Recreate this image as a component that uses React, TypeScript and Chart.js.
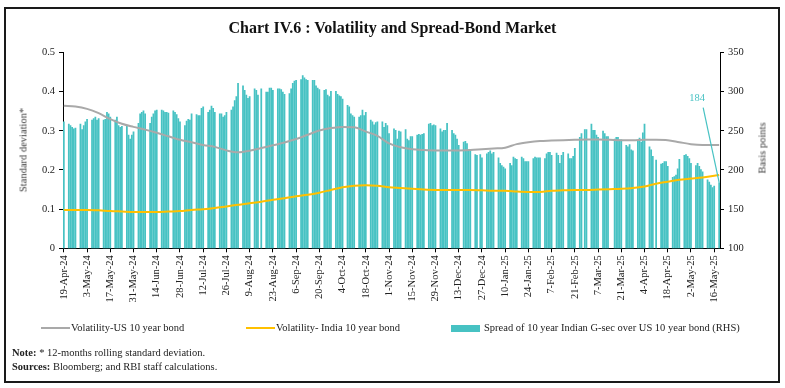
import React, { useEffect, useRef } from "react";
import { Chart, registerables } from "chart.js";

Chart.register(...registerables);

const FONT = "'Liberation Serif', 'Times New Roman', serif";

// Calendar-day categories from 19-Apr-24 to 19-May-25
const startDate = "2024-04-19";
const dayCount = 396;
const monthNames = ["Jan", "Feb", "Mar", "Apr", "May", "Jun", "Jul", "Aug", "Sep", "Oct", "Nov", "Dec"];

const tickLabels = [
  "19-Apr-24", "3-May-24", "17-May-24", "31-May-24", "14-Jun-24", "28-Jun-24", "12-Jul-24",
  "26-Jul-24", "9-Aug-24", "23-Aug-24", "6-Sep-24", "20-Sep-24", "4-Oct-24", "18-Oct-24",
  "1-Nov-24", "15-Nov-24", "29-Nov-24", "13-Dec-24", "27-Dec-24", "10-Jan-25", "24-Jan-25",
  "7-Feb-25", "21-Feb-25", "7-Mar-25", "21-Mar-25", "4-Apr-25", "18-Apr-25", "2-May-25", "16-May-25",
];

// Spread (bps, RHS): weekly rows Mon..Fri, first row = week of 15-19 Apr 2024
const spreadWeeks: (number | null)[][] = [
  [null, null, null, null, 262],
  [259, 257, 255, 253, 254],
  [259, 252, 257, 262, 265],
  [264, 266, 268, 264, 266],
  [264, 265, 274, 272, 268],
  [264, 268, 257, 255, 256],
  [257, 245, 240, 245, 249],
  [260, 272, 274, 276, 272],
  [260, 268, 272, 276, 277],
  [277, 276, 274, 274, 273],
  [276, 274, 271, 266, 262],
  [257, 263, 265, 264, 272],
  [271, 270, 270, 279, 281],
  [274, 277, 282, 279, 274],
  [272, 272, 268, 270, 274],
  [277, 281, 289, 294, 311],
  [308, 302, 296, 292, 294],
  [304, 302, 296, null, 304],
  [300, 300, 305, 305, 302],
  [304, 304, 303, 300, 297],
  [298, 304, 311, 314, 315],
  [316, 321, 318, 316, 315],
  [315, 315, 308, 305, 303],
  [302, 303, 296, 294, 301],
  [301, 297, 295, 294, 291],
  [283, 281, 272, 270, 268],
  [268, 270, 277, 270, 274],
  [264, 262, 258, 261, 262],
  [262, 255, 260, 257, 247],
  [253, 251, 240, 250, 249],
  [252, 240, 238, 243, 243],
  [245, 246, 245, 246, 247],
  [259, 260, 257, 258, 257],
  [253, 249, 251, 251, 260],
  [251, 247, 245, 240, 232],
  [236, 237, 234, 226, 226],
  [220, 219, null, 220, 216],
  [221, 223, 225, 221, 223],
  [216, 209, 206, 204, 202],
  [209, 206, 217, 215, 214],
  [217, 215, 211, 211, 211],
  [215, 217, 216, 216, 216],
  [215, 221, 223, 223, 219],
  [222, 219, 209, 219, 223],
  [221, 215, 215, 218, 228],
  [242, 247, null, 252, 252],
  [259, 251, 251, 245, 242],
  [250, 247, 243, 243, null],
  [240, 242, 242, 239, 239],
  [232, 230, 233, 226, 225],
  [238, 241, 236, 248, 259],
  [230, 226, 218, null, 213],
  [208, 209, 211, 211, 205],
  [191, 192, 194, 202, 214],
  [219, 220, 218, 215, 209],
  [206, 209, 205, 201, 198],
  [188, 185, 181, 178, 180],
  [184],
];

// Volatility series (LHS), read at each Friday from 19-Apr-24 to 16-May-25, plus 19-May-25
const usVolatility = [
  0.364, 0.362, 0.356, 0.345, 0.330, 0.318, 0.310, 0.303, 0.295, 0.286,
  0.277, 0.271, 0.264, 0.259, 0.250, 0.245, 0.249, 0.256, 0.263, 0.270,
  0.279, 0.290, 0.301, 0.307, 0.310, 0.309, 0.298, 0.287, 0.268, 0.258,
  0.253, 0.251, 0.250, 0.250, 0.250, 0.251, 0.253, 0.255, 0.257, 0.266,
  0.271, 0.274, 0.275, 0.276, 0.277, 0.278, 0.278, 0.277, 0.276, 0.276,
  0.277, 0.277, 0.276, 0.271, 0.266, 0.264, 0.264, 0.264,
];
const indiaVolatility = [
  0.098, 0.098, 0.098, 0.097, 0.095, 0.094, 0.093, 0.093, 0.093, 0.094,
  0.095, 0.098, 0.100, 0.103, 0.107, 0.111, 0.115, 0.119, 0.124, 0.128,
  0.133, 0.137, 0.142, 0.149, 0.156, 0.160, 0.161, 0.160, 0.156, 0.154,
  0.152, 0.150, 0.149, 0.149, 0.149, 0.149, 0.148, 0.147, 0.147, 0.145,
  0.144, 0.144, 0.147, 0.148, 0.149, 0.149, 0.150, 0.151, 0.152, 0.154,
  0.158, 0.165, 0.170, 0.175, 0.178, 0.181, 0.185, 0.187,
];

const COLORS = { us: "#A9A9A9", india: "#FFC000", spread: "#47C2C3", axis: "#000000", text: "#222222" };

function buildCategories(): string[] {
  const [y, m, d] = startDate.split("-").map(Number);
  const base = Date.UTC(y, m - 1, d);
  const out: string[] = [];
  for (let i = 0; i < dayCount; i++) {
    const dt = new Date(base + i * 86400000);
    out.push(`${dt.getUTCDate()}-${monthNames[dt.getUTCMonth()]}-${String(dt.getUTCFullYear()).slice(2)}`);
  }
  return out;
}

export default function App() {
  const ref = useRef<HTMLCanvasElement | null>(null);

  useEffect(() => {
    if (!ref.current) return;
    const categories = buildCategories();
    const tickSet = new Set(tickLabels);

    const spread: (number | null)[] = new Array(categories.length).fill(null);
    spreadWeeks.forEach((week, w) => {
      week.forEach((v, k) => {
        const d = 7 * w + k - 4;
        if (d >= 0 && d < categories.length) spread[d] = v;
      });
    });
    const lastIdx = categories.length - 1;
    const lastSpread = spread[lastIdx] as number;

    const linePoints = (vals: number[]) =>
      vals.map((v, i) => ({ x: categories[Math.min(i * 7, lastIdx)], y: v }));

    const annotation = {
      id: "lastValueLabel",
      afterDatasetsDraw(chart: any) {
        const { ctx, scales } = chart;
        const px = scales.x.getPixelForValue(lastIdx);
        const py = scales.y1.getPixelForValue(lastSpread);
        ctx.save();
        ctx.strokeStyle = COLORS.spread;
        ctx.lineWidth = 1.2;
        ctx.beginPath();
        ctx.moveTo(px - 16, py - 75);
        ctx.lineTo(px, py);
        ctx.stroke();
        ctx.fillStyle = COLORS.spread;
        ctx.font = `10.5px ${FONT}`;
        ctx.textAlign = "center";
        ctx.textBaseline = "middle";
        ctx.fillText(String(lastSpread), px - 22, py - 84);
        ctx.restore();
      },
    };

    const tickFont = { family: FONT, size: 10.5 };

    const chart = new Chart(ref.current, {
      type: "bar",
      data: {
        labels: categories,
        datasets: [
          {
            type: "line",
            label: "Volatility-US 10 year bond",
            data: linePoints(usVolatility) as any,
            yAxisID: "y",
            borderColor: COLORS.us,
            borderWidth: 2,
            pointRadius: 0,
            cubicInterpolationMode: "monotone",
            order: 1,
          },
          {
            type: "line",
            label: "Volatility- India 10 year bond",
            data: linePoints(indiaVolatility) as any,
            yAxisID: "y",
            borderColor: COLORS.india,
            borderWidth: 2,
            pointRadius: 0,
            cubicInterpolationMode: "monotone",
            order: 0,
          },
          {
            type: "bar",
            label: "Spread of 10 year Indian G-sec over US 10 year bond (RHS)",
            data: spread,
            yAxisID: "y1",
            backgroundColor: COLORS.spread,
            borderWidth: 0,
            barPercentage: 1.06,
            categoryPercentage: 1,
            order: 2,
          },
        ],
      },
      options: {
        responsive: false,
        animation: false,
        devicePixelRatio: 1,
        layout: { padding: { top: 52.5, bottom: 0, left: 0, right: 0 } },
        plugins: { legend: { display: false }, tooltip: { enabled: false }, title: { display: false } },
        scales: {
          x: {
            type: "category",
            offset: true,
            grid: {
              display: true,
              offset: false,
              drawOnChartArea: false,
              drawTicks: true,
              tickLength: 4,
              color: (c: any) => (tickSet.has(categories[c.index]) ? COLORS.axis : "rgba(0,0,0,0)"),
            },
            border: { display: true, color: COLORS.axis, width: 1 },
            ticks: {
              autoSkip: false,
              maxRotation: 90,
              minRotation: 90,
              padding: 3,
              color: COLORS.text,
              font: tickFont,
              callback: (_v: any, i: number) => (tickSet.has(categories[i]) ? categories[i] : ""),
            },
            afterFit: (s: any) => {
              s.height = 139.7;
            },
          },
          y: {
            position: "left",
            min: 0,
            max: 0.5,
            grid: { drawOnChartArea: false, tickLength: 4, color: COLORS.axis },
            border: { display: true, color: COLORS.axis, width: 1 },
            ticks: {
              stepSize: 0.1,
              padding: 4,
              color: COLORS.text,
              font: tickFont,
              callback: (v: any) => (Number(v) === 0 ? "0" : Number(v).toFixed(1)),
            },
            afterFit: (s: any) => {
              s.width = 63;
            },
          },
          y1: {
            position: "right",
            min: 100,
            max: 350,
            grid: { drawOnChartArea: false, tickLength: 4, color: COLORS.axis },
            border: { display: true, color: COLORS.axis, width: 1 },
            ticks: { stepSize: 50, padding: 4, color: COLORS.text, font: tickFont },
            afterFit: (s: any) => {
              s.width = 65;
            },
          },
        },
      },
      plugins: [annotation],
    } as any);

    return () => chart.destroy();
  }, []);

  const textBase: React.CSSProperties = {
    position: "absolute",
    fontFamily: FONT,
    color: COLORS.text,
    whiteSpace: "nowrap",
    fontWeight: "normal",
  };

  return (
    <div style={{ position: "absolute", left: 0, top: 0, width: 785, height: 388, background: "#fff", overflow: "hidden" }}>
      <canvas ref={ref} width={785} height={388} style={{ position: "absolute", left: 0, top: 0, width: 785, height: 388 }} />
      <div
        style={{
          ...textBase,
          left: 0,
          width: 785,
          top: 20,
          textAlign: "center",
          fontSize: 16,
          lineHeight: "16px",
          fontWeight: "bold",
          color: "#111",
        }}
      >
        Chart IV.6 : Volatility and Spread-Bond Market
      </div>
      <div
        style={{
          ...textBase,
          left: 22.5,
          top: 150,
          fontSize: 10.5,
          lineHeight: "11px",
          color: "#3a3a3a",
          transform: "translate(-50%, -50%) rotate(-90deg)",
        }}
      >
        Standard deviation*
      </div>
      <div
        style={{
          ...textBase,
          left: 762,
          top: 148,
          fontSize: 10.5,
          lineHeight: "11px",
          color: "#3a3a3a",
          transform: "translate(-50%, -50%) rotate(-90deg)",
        }}
      >
        Basis points
      </div>
      {/* Legend */}
      <div style={{ position: "absolute", left: 41, top: 327, width: 29, height: 2, background: COLORS.us }} />
      <div style={{ ...textBase, left: 71, top: 322, fontSize: 10.5, lineHeight: "11px" }}>Volatility-US 10 year bond</div>
      <div style={{ position: "absolute", left: 246, top: 327, width: 29, height: 2, background: COLORS.india }} />
      <div style={{ ...textBase, left: 276, top: 322, fontSize: 10.5, lineHeight: "11px" }}>Volatility- India 10 year bond</div>
      <div style={{ position: "absolute", left: 451, top: 324.5, width: 29, height: 7, background: COLORS.spread }} />
      <div style={{ ...textBase, left: 484, top: 322, fontSize: 10.5, lineHeight: "11px" }}>
        Spread of 10 year Indian G-sec over US 10 year bond (RHS)
      </div>
      {/* Notes */}
      <div style={{ ...textBase, left: 12, top: 347, fontSize: 10.5, lineHeight: "11px" }}>
        <b>Note:</b> * 12-months rolling standard deviation.
      </div>
      <div style={{ ...textBase, left: 12, top: 361, fontSize: 10.5, lineHeight: "11px" }}>
        <b>Sources:</b> Bloomberg; and RBI staff calculations.
      </div>
      {/* Frame */}
      <div
        style={{
          position: "absolute",
          left: 4,
          top: 7,
          width: 776,
          height: 376,
          border: "2px solid #1a1a1a",
          boxSizing: "border-box",
          pointerEvents: "none",
        }}
      />
    </div>
  );
}
